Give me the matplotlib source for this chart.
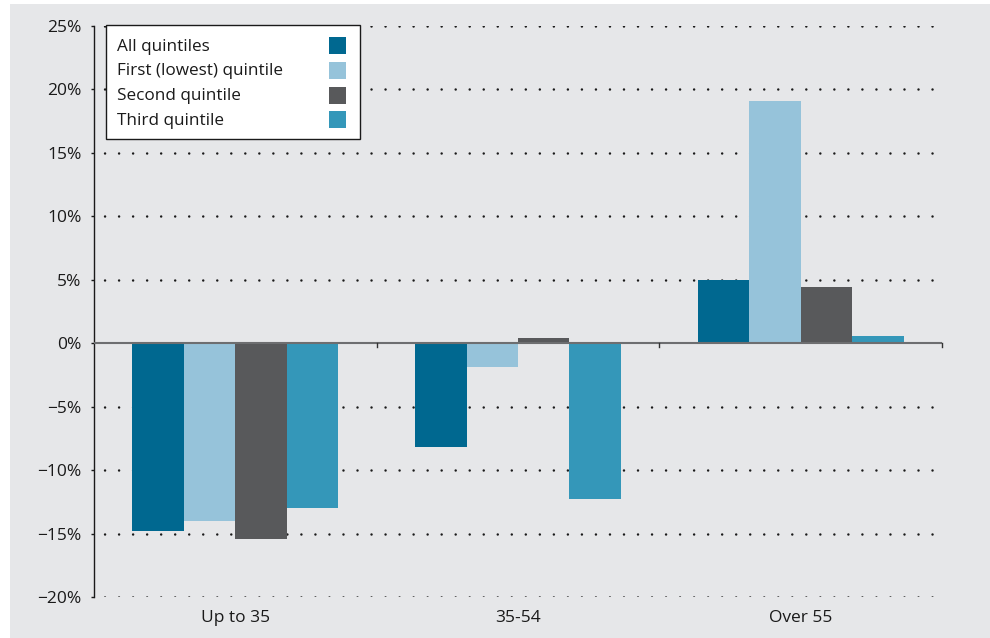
import numpy as np
import matplotlib
matplotlib.use("Agg")
import matplotlib.pyplot as plt
from matplotlib.patches import Rectangle

# Change by age group, per income quintile (%)
age_groups = ["Up to 35", "35-54", "Over 55"]
series_names = ["All quintiles", "First (lowest) quintile", "Second quintile", "Third quintile"]
all_q = [-14.8, -8.2, 5.0]
first_q = [-14.0, -1.9, 19.1]
second_q = [-15.4, 0.4, 4.4]
third_q = [-13.0, -12.3, 0.6]
yticks = [-20, -15, -10, -5, 0, 5, 10, 15, 20, 25]

colors = ["#006890", "#96c3da", "#58595b", "#3497b9"]
bg = "#e6e7e9"
ink = "#1a1a1a"

plt.rcParams["font.family"] = ["Open Sans", "DejaVu Sans"]

W, H = 990, 638
fig = plt.figure(figsize=(W / 100, H / 100), dpi=100)
fig.patch.set_facecolor("white")
fig.patches.append(Rectangle((10 / W, 0), 980 / W, 634 / H,
                             transform=fig.transFigure, facecolor=bg,
                             edgecolor="none", zorder=-10))

ax_l, ax_r, ax_t, ax_b = 94, 942, 26, 597
ax = fig.add_axes([ax_l / W, 1 - ax_b / H, (ax_r - ax_l) / W, (ax_b - ax_t) / H])
ax.set_facecolor("none")

x = np.arange(len(age_groups))
width = 0.182
values = [all_q, first_q, second_q, third_q]
for i, (vals, col, name) in enumerate(zip(values, colors, series_names)):
    ax.bar(x + (i - 1.5) * width, vals, width, color=col, label=name,
           zorder=3, linewidth=0)

# dotted grid on every gridline except zero
for y in yticks:
    if y == 0:
        continue
    ax.axhline(y, color=ink, linewidth=1.8, linestyle=(7, (0.01, 5.6)),
               dash_capstyle="round", zorder=1)

# zero line with boundary ticks
ax.axhline(0, color="#6d6e70", linewidth=1.5, zorder=4)
for b in [0.5, 1.5, 2.5]:
    ax.plot([b, b], [0, -0.3], color="#333333", linewidth=1, zorder=4,
            clip_on=False)

ax.set_xlim(-0.5, 2.5)
ax.set_ylim(-20, 25)
ax.set_yticks(yticks)
ax.set_yticklabels([f"{v}%".replace("-", "\u2212") for v in yticks])
ax.set_xticks(x)
ax.set_xticklabels(age_groups)

for s in ["top", "right", "bottom"]:
    ax.spines[s].set_visible(False)
ax.spines["left"].set_color(ink)
ax.spines["left"].set_linewidth(1)
ax.tick_params(axis="y", length=2, width=1, pad=7, labelsize=12.5,
               labelcolor=ink, color=ink)
ax.tick_params(axis="x", length=0, pad=9, labelsize=12.5, labelcolor=ink)


# legend box: labels on the left, colour swatches on the right
def px(xp, yp):
    return ((xp - ax_l) / (ax_r - ax_l), (ax_b - yp) / (ax_b - ax_t))


x0, y0 = px(106, 139)
x1, y1 = px(360, 25)
ax.add_patch(Rectangle((x0, y0), x1 - x0, y1 - y0, transform=ax.transAxes,
                       facecolor="white", edgecolor=ink, linewidth=1,
                       zorder=6, clip_on=False))
for i, (name, col) in enumerate(zip(series_names, colors)):
    cy = 45.5 + i * 24.8
    tx, ty = px(117, cy + 1)
    ax.text(tx, ty, name, transform=ax.transAxes, ha="left", va="center",
            fontsize=12.3, color=ink, zorder=7)
    sx0, sy0 = px(329, cy + 8.5)
    sx1, sy1 = px(346, cy - 8.5)
    ax.add_patch(Rectangle((sx0, sy0), sx1 - sx0, sy1 - sy0,
                           transform=ax.transAxes, facecolor=col,
                           edgecolor="none", zorder=7, clip_on=False))

fig.savefig("out.png", dpi=100)
